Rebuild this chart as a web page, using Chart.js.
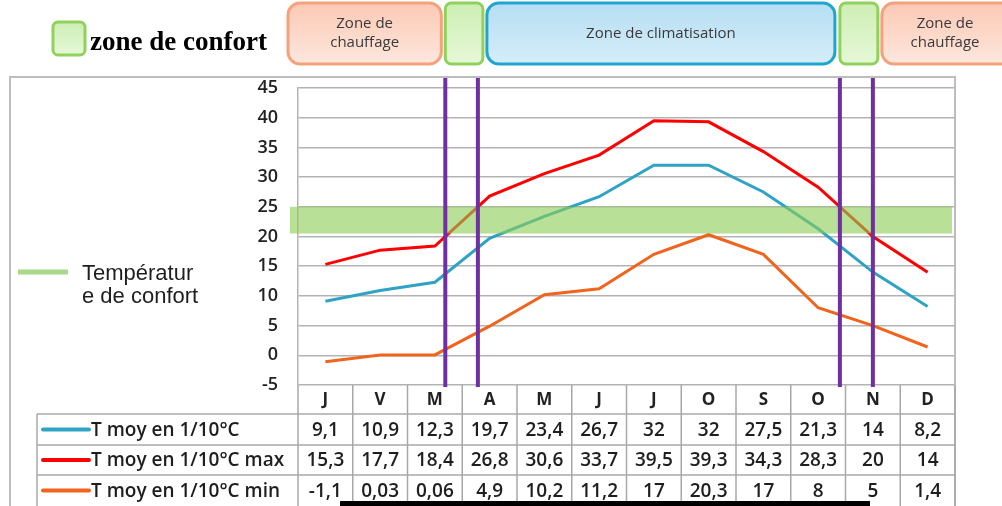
<!DOCTYPE html>
<html>
<head>
<meta charset="utf-8">
<script src="https://cdn.jsdelivr.net/npm/chart.js@4.4.0/dist/chart.umd.min.js"></script>
<style>
  html, body { margin: 0; padding: 0; background: #fff; }
</style>
</head>
<body>
<canvas id="climat" width="1002" height="506"></canvas>
<script>
// données
const months = ['J', 'V', 'M', 'A', 'M', 'J', 'J', 'O', 'S', 'O', 'N', 'D'];
const tMoy = [9.1, 10.9, 12.3, 19.7, 23.4, 26.7, 32, 32, 27.5, 21.3, 14, 8.2];
const tMax = [15.3, 17.7, 18.4, 26.8, 30.6, 33.7, 39.5, 39.3, 34.3, 28.3, 20, 14];
const tMin = [-1.1, 0.03, 0.06, 4.9, 10.2, 11.2, 17, 20.3, 17, 8, 5, 1.4];
const seriesNames = ['T moy en 1/10°C', 'T moy en 1/10°C max', 'T moy en 1/10°C min'];
const seriesColors = ['#2fa3c5', '#ff0000', '#f0641e'];
const comfortBand = [20.5, 25];   // bande verte
const comfortLimits = [20, 25];   // seuils sur la courbe max
const yMin = -5, yMax = 45, yStep = 5;

const FONT = "'Open Sans', 'Liberation Sans', sans-serif";

// mois (fractionnaires) où la T max franchit les seuils de confort
function crossings(values, level) {
  const out = [];
  for (let i = 0; i < values.length - 1; i++) {
    const a = values[i], b = values[i + 1];
    if ((a - level) * (b - level) < 0 || b === level) out.push(i + (level - a) / (b - a));
  }
  return out;
}
const zoneEdges = comfortLimits.flatMap(l => crossings(tMax, l)).sort((p, q) => p - q);

function fmt(v) { return String(v).replace('.', ','); }

function box(ctx, x1, x2, y1, y2, r, c1, c2, stroke) {
  const g = ctx.createLinearGradient(0, y1, 0, y2);
  g.addColorStop(0, c1);
  g.addColorStop(1, c2);
  ctx.beginPath();
  ctx.roundRect(x1, y1, x2 - x1, y2 - y1, r);
  ctx.fillStyle = g;
  ctx.fill();
  ctx.lineWidth = 3;
  ctx.strokeStyle = stroke;
  ctx.stroke();
}

function seg(ctx, x1, y1, x2, y2) {
  ctx.beginPath();
  ctx.moveTo(x1, y1);
  ctx.lineTo(x2, y2);
  ctx.stroke();
}

const overlay = {
  id: 'overlay',
  afterDatasetsDraw(chart) {
    const { ctx, chartArea: a, scales: { x, y } } = chart;
    ctx.save();
    // bande de confort
    const top = y.getPixelForValue(comfortBand[1]);
    const bot = y.getPixelForValue(comfortBand[0]);
    ctx.fillStyle = 'rgba(140, 205, 85, 0.62)';
    ctx.fillRect(a.left - 8, top, a.right - a.left + 5, bot - top);
    // limites des zones
    ctx.strokeStyle = '#7030a0';
    ctx.lineWidth = 4;
    zoneEdges.forEach(v => {
      const px = x.getPixelForValue(v);
      seg(ctx, px, 77, px, a.bottom + 2);
    });
    ctx.restore();
  },
  afterDraw(chart) {
    const { ctx, chartArea: a, scales: { x } } = chart;
    ctx.save();

    // cadre
    ctx.strokeStyle = '#bdbdbd';
    ctx.lineWidth = 2;
    ctx.beginPath();
    ctx.moveTo(10, 506); ctx.lineTo(10, 77); ctx.lineTo(a.right, 77); ctx.lineTo(a.right, 506);
    ctx.stroke();

    // tableau de données
    const rows = [a.bottom, a.bottom + 29, a.bottom + 60, a.bottom + 90, 506];
    const tableLeft = 37;
    ctx.strokeStyle = '#a8a8a8';
    ctx.lineWidth = 1.5;
    for (let i = 0; i <= months.length; i++) {
      const px = x.getPixelForValue(i - 0.5);
      seg(ctx, px, a.bottom, px, 506);
    }
    seg(ctx, tableLeft, rows[1], tableLeft, 506);
    for (let r = 1; r < 4; r++) seg(ctx, tableLeft, rows[r], a.right, rows[r]);

    const series = [tMoy, tMax, tMin];
    ctx.textBaseline = 'middle';
    series.forEach((vals, r) => {
      const cy = (rows[r + 1] + rows[r + 2]) / 2;
      ctx.strokeStyle = seriesColors[r];
      ctx.lineWidth = 4;
      ctx.lineCap = 'round';
      seg(ctx, 43, cy, 89, cy);
      ctx.lineCap = 'butt';
      ctx.fillStyle = '#1e1e1e';
      ctx.font = "600 19px " + FONT;
      ctx.textAlign = 'left';
      ctx.fillText(seriesNames[r], 91, cy + 1);
      ctx.textAlign = 'center';
      vals.forEach((v, i) => ctx.fillText(fmt(v), x.getPixelForValue(i), cy + 1));
    });

    // légende de gauche
    ctx.strokeStyle = '#a9d98a';
    ctx.lineWidth = 5;
    seg(ctx, 18, 272, 68, 272);
    ctx.fillStyle = '#1e1e1e';
    ctx.font = "22px 'Liberation Sans', Arial, sans-serif";
    ctx.textAlign = 'left';
    ctx.fillText('Températur', 82, 274);
    ctx.fillText('e de confort', 82, 297);

    // zones en haut
    const p = zoneEdges.map(v => x.getPixelForValue(v));
    const orangeA = '#fbc9b4', orangeB = '#fde7de', orangeS = '#f4a27d';
    const greenA = '#cdeeb4', greenB = '#e6f8d8', greenS = '#8fd15c';
    box(ctx, 288, p[0] - 4, 3, 64, 12, orangeA, orangeB, orangeS);
    box(ctx, p[0], p[1] + 5, 3, 64, 6, greenA, greenB, greenS);
    box(ctx, p[1] + 9, p[2] - 5, 3, 64, 12, '#b6def3', '#d5edf9', '#1fa6cf');
    box(ctx, p[2], p[3] + 5, 3, 64, 6, greenA, greenB, greenS);
    box(ctx, p[3] + 9, 1020, 3, 64, 12, orangeA, orangeB, orangeS);

    ctx.fillStyle = '#3a3a3a';
    ctx.font = "15px " + FONT;
    ctx.textAlign = 'center';
    const c1 = (288 + p[0] - 4) / 2;
    ctx.fillText('Zone de', c1, 24);
    ctx.fillText('chauffage', c1, 43);
    ctx.fillText('Zone de climatisation', (p[1] + 9 + p[2] - 5) / 2, 34);
    ctx.fillText('Zone de', 945, 24);
    ctx.fillText('chauffage', 945, 43);

    // légende "zone de confort"
    box(ctx, 53, 85, 22, 55, 5, greenA, greenB, greenS);
    ctx.fillStyle = '#000';
    ctx.font = "bold 27px 'Liberation Serif', 'Times New Roman', serif";
    ctx.textAlign = 'left';
    ctx.fillText('zone de confort', 90, 43);

    // trait noir en bas
    ctx.fillStyle = '#000';
    ctx.fillRect(340, 501, 530, 5);
    ctx.restore();
  }
};

new Chart(document.getElementById('climat'), {
  type: 'line',
  data: {
    labels: months,
    datasets: [
      { label: seriesNames[0], data: tMoy, borderColor: seriesColors[0] },
      { label: seriesNames[1], data: tMax, borderColor: seriesColors[1] },
      { label: seriesNames[2], data: tMin, borderColor: seriesColors[2] }
    ]
  },
  options: {
    responsive: false,
    animation: false,
    devicePixelRatio: 1,
    layout: { padding: { top: 88, right: 47 } },
    elements: {
      line: { borderWidth: 3, tension: 0 },
      point: { radius: 0 }
    },
    plugins: { legend: { display: false }, tooltip: { enabled: false } },
    scales: {
      x: {
        offset: true,
        grid: { display: false, drawTicks: false },
        border: { display: false },
        ticks: { padding: 5, color: '#222', font: { family: FONT, size: 17, weight: '700' } },
        afterFit(s) { s.height = 121; }
      },
      y: {
        min: yMin,
        max: yMax,
        grid: { color: '#b3b3b3', lineWidth: 1.5, drawTicks: false },
        border: { color: '#b3b3b3', width: 1.5 },
        ticks: { stepSize: yStep, padding: 20, color: '#222', font: { family: FONT, size: 18, weight: '600' } },
        afterFit(s) { s.width = 298; }
      }
    }
  },
  plugins: [overlay]
});
</script>
</body>
</html>
